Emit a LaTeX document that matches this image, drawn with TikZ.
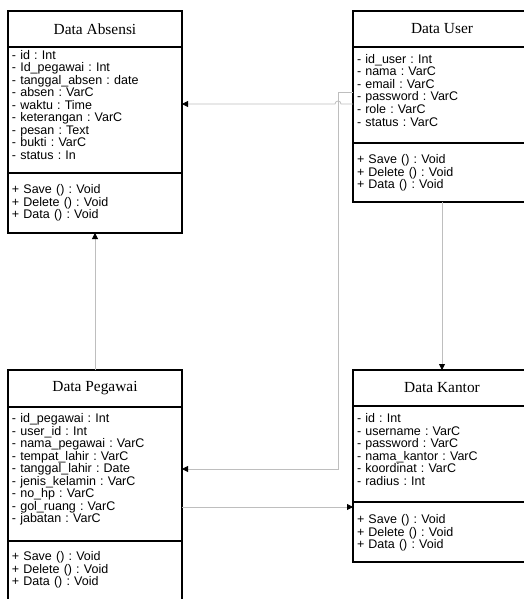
\documentclass[tikz,border=0pt]{standalone}
\usepackage{fontspec}
\setmainfont{Liberation Serif}
\setsansfont{Liberation Sans}
\usetikzlibrary{positioning,calc,arrows.meta}
\definecolor{linkgray}{RGB}{190,190,190}
\frenchspacing

\begin{document}
\begin{tikzpicture}[x=1pt, y=-1pt,
  head/.style={draw, rectangle, line width=1.3pt, outer sep=0pt, minimum height=36pt, font=\fontsize{15.4}{16}\selectfont},
  body/.style={draw, rectangle, line width=1.3pt, outer sep=0pt, inner xsep=4pt, inner ysep=2pt, align=left, font=\sffamily\fontsize{12.5}{12.5}\selectfont},
  link/.style={draw=linkgray, line width=0.8pt, -{Triangle[length=6pt, width=6pt, color=black]}}]
\useasboundingbox (0,0) rectangle (523,599);

% Data Absensi
\node[head, minimum width=174pt] (absensi) at (95,29) {Data Absensi};
\node[body, below=0pt of absensi, text width=166pt, text height=10.5pt, text depth=111.5pt] (absensi-attr) {- id : Int\\- Id\_pegawai : Int\\- tanggal\_absen : date\\- absen : VarC\\- waktu : Time\\- keterangan : VarC\\- pesan : Text\\- bukti : VarC\\- status : In};
\node[body, below=0pt of absensi-attr, text width=166pt, text height=18.8pt, text depth=37.2pt] (absensi-meth) {+ Save () : Void\\+ Delete () : Void\\+ Data () : Void};

% Data User
\node[head, minimum width=178pt] (user) at (442,29) {Data User};
\node[body, below=0pt of user, text width=170pt, text height=14.5pt, text depth=77.5pt] (user-attr) {- id\_user : Int\\- nama : VarC\\- email : VarC\\- password : VarC\\- role : VarC\\- status : VarC};
\node[body, below=0pt of user-attr, text width=170pt, text height=18.8pt, text depth=36.2pt] (user-meth) {+ Save () : Void\\+ Delete () : Void\\+ Data () : Void};

% Data Pegawai
\node[head, minimum width=174pt, minimum height=37pt] (pegawai) at (95,388.5) {Data Pegawai};
\node[body, below=0pt of pegawai, text width=166pt, text height=13.8pt, text depth=116.2pt] (pegawai-attr) {- id\_pegawai : Int\\- user\_id : Int\\- nama\_pegawai : VarC\\- tempat\_lahir : VarC\\- tanggal\_lahir : Date\\- jenis\_kelamin : VarC\\- no\_hp : VarC\\- gol\_ruang : VarC\\- jabatan : VarC};
\node[body, below=0pt of pegawai-attr, text width=166pt, text height=17.5pt, text depth=38.5pt] (pegawai-meth) {+ Save () : Void\\+ Delete () : Void\\+ Data () : Void};

% Data Kantor
\node[head, minimum width=178pt] (kantor) at (442,388) {Data Kantor};
\node[body, below=0pt of kantor, text width=170pt, text height=14.8pt, text depth=77.2pt] (kantor-attr) {- id : Int\\- username : VarC\\- password : VarC\\- nama\_kantor : VarC\\- koordinat : VarC\\- radius : Int};
\node[body, below=0pt of kantor-attr, text width=170pt, text height=19.5pt, text depth=36.5pt] (kantor-meth) {+ Save () : Void\\+ Delete () : Void\\+ Data () : Void};

% relasi
\draw[link] (pegawai.north) -- (absensi-meth.south);
\draw[link] ($(user-attr.north west)+(0,57)$) -- ++(-12,0) arc[start angle=0, end angle=180, radius=3pt] -- ($(absensi-attr.north east)+(0,57)$);
\draw[link] ($(user-attr.north west)+(0,45)$) -- ++(-15,0) |- ($(pegawai-attr.north east)+(0,62)$);
\draw[link] ($(pegawai-attr.north east)+(0,100)$) -- ($(kantor-meth.north west)+(0,5)$);
\draw[link] (user-meth.south) -- (kantor.north);
\end{tikzpicture}
\end{document}
